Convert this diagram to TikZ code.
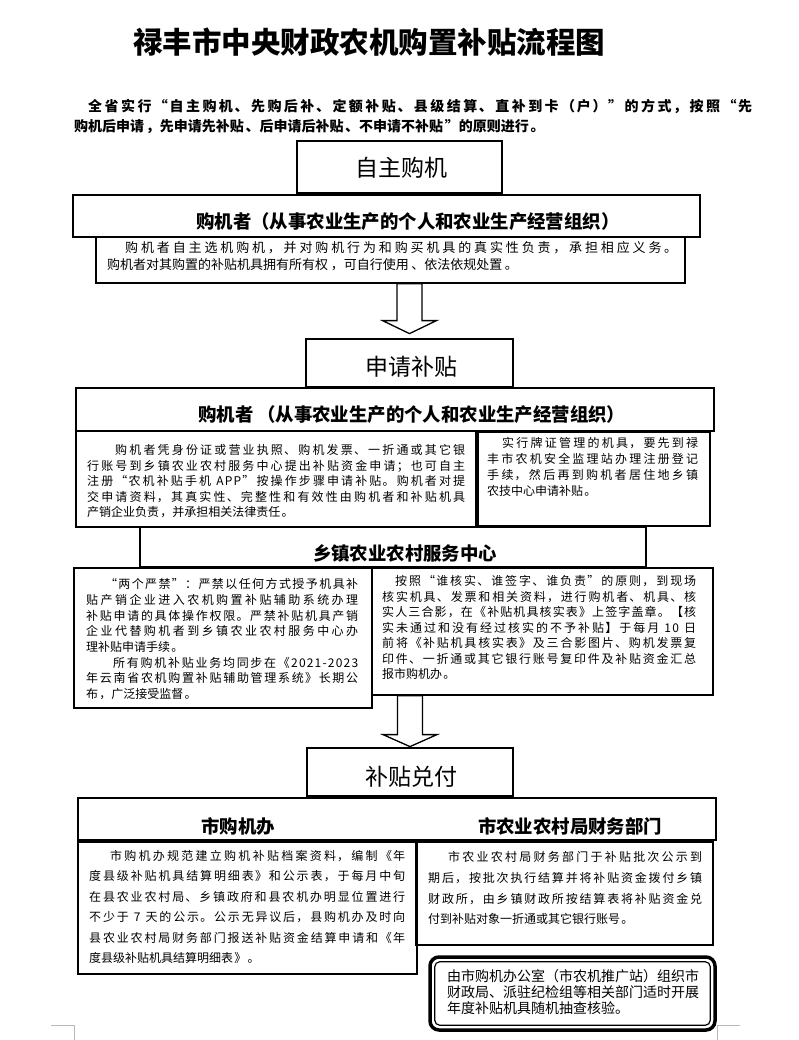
\documentclass[tikz,border=0pt]{standalone}
\usepackage{fontspec}
\usetikzlibrary{calc}
\newfontfamily\zh{Noto Sans CJK SC}
\newfontfamily\zhbody[LetterSpace=10]{Noto Sans CJK SC}
\newfontfamily\zhwide[LetterSpace=20]{Noto Sans CJK SC}
\newfontfamily\zhlead[LetterSpace=12]{Noto Sans CJK SC}
\XeTeXlinebreaklocale "zh"
\XeTeXlinebreakskip=0pt plus 3pt minus 1pt
\tolerance=9999

\tikzset{
  stagebox/.style={draw, line width=2.8pt, inner sep=0pt},
  headbox/.style={draw, line width=2pt, inner sep=0pt},
  textbox/.style={draw, line width=1.5pt, inner sep=0pt},
  stagetext/.style={inner sep=0pt, font=\zh\fontsize{23}{23}\selectfont},
  headtext/.style={inner sep=0pt, font=\zh\bfseries\fontsize{18.4}{18.4}\selectfont},
  para/.style 2 args={anchor=north west, inner sep=0pt, text width=#1pt, align=justify,
    font=\zhbody\fontsize{12}{#2}\selectfont},
  blockarrow/.style={draw, line width=1.3pt, line join=miter},
}

\begin{document}
\begin{tikzpicture}[x=1pt,y=-1pt]
\useasboundingbox (0,0) rectangle (799,1040);
% title and lead-in
\node[font=\zh\bfseries\fontsize{29.5}{29.5}\selectfont] (title) at (369,42) {禄丰市中央财政农机购置补贴流程图};
\node[para={678}{20}, font=\zhlead\bfseries\fontsize{14}{20}\selectfont] (lead) at (74,99.5) {\hspace*{14pt}全省实行“自主购机、先购后补、定额补贴、县级结算、直补到卡（户）”的方式，按照“先\linebreak
购机后申请，先申请先补贴、后申请后补贴、不申请不补贴”的原则进行。};

% stage 1
\node[stagebox, minimum width=205pt, minimum height=52pt] (stageA) at (399.5,167) {};
\node[stagetext] (stageAlbl) at (401,168) {自主购机};
\node[headbox, minimum width=627pt, minimum height=42pt] (buyerA) at (386.5,216) {};
\node[headtext, anchor=west] (buyerAlbl) at (196,222) {购机者（从事农业生产的个人和农业生产经营组织）};
\node[textbox, minimum width=589pt, minimum height=46pt] (buyerAtxt) at (390.5,260) {};
\node[para={570}{17.5}, font=\zhwide\fontsize{13}{17.5}\selectfont] (buyerApar) at (107,241) {\hspace*{18pt}购机者自主选机购机，并对购机行为和购买机具的真实性负责，承担相应义务。\linebreak
购机者对其购置的补贴机具拥有所有权，可自行使用、依法依规处置。};

% stage 2
\node[stagebox, minimum width=207pt, minimum height=48pt] (stageB) at (409.5,363) {};
\node[stagetext] (stageBlbl) at (411,367) {申请补贴};
\node[headbox, minimum width=638pt, minimum height=43pt] (buyerB) at (395,409.5) {};
\node[headtext, anchor=west] (buyerBlbl) at (198,415) {购机者\hspace{4pt}（从事农业生产的个人和农业生产经营组织）};
\node[textbox, minimum width=402pt, minimum height=96pt] (applyL) at (277,479) {};
\node[textbox, minimum width=234pt, minimum height=94pt] (applyR) at (593,479) {};
\node[para={378}{15.5}] (applyLpar) at (87,444.4) {\hspace*{28pt}购机者凭身份证或营业执照、购机发票、一折通或其它银\linebreak
行账号到乡镇农业农村服务中心提出补贴资金申请；也可自主\linebreak
注册“农机补贴手机 APP”按操作步骤申请补贴。购机者对提\linebreak
交申请资料，其真实性、完整性和有效性由购机者和补贴机具\linebreak
产销企业负责，并承担相关法律责任。};
\node[para={211}{16}] (applyRpar) at (487,437.4) {\hspace*{15pt}实行牌证管理的机具，要先到禄\linebreak
丰市农机安全监理站办理注册登记\linebreak
手续，然后再到购机者居住地乡镇\linebreak
农技中心申请补贴。};
\node[headbox, minimum width=506pt, minimum height=40pt] (town) at (393,547) {};
\node[headtext] (townlbl) at (405,553) {乡镇农业农村服务中心};
\node[textbox, minimum width=298pt, minimum height=140pt] (townL) at (223,638) {};
\node[textbox, minimum width=341pt, minimum height=127pt] (townR) at (542.5,631.5) {};
\node[para={272}{15.7}] (townLpar) at (86,578.4) {\hspace*{19pt}“两个严禁”：严禁以任何方式授予机具补\linebreak
贴产销企业进入农机购置补贴辅助系统办理\linebreak
补贴申请的具体操作权限。严禁补贴机具产销\linebreak
企业代替购机者到乡镇农业农村服务中心办\linebreak
理补贴申请手续。\par
\hspace*{27pt}所有购机补贴业务均同步在《2021-2023\linebreak
年云南省农机购置补贴辅助管理系统》长期公\linebreak
布，广泛接受监督。};
\node[para={314}{15.5}] (townRpar) at (382,575.4) {\hspace*{13pt}按照“谁核实、谁签字、谁负责”的原则，到现场\linebreak
核实机具、发票和相关资料，进行购机者、机具、核\linebreak
实人三合影，在《补贴机具核实表》上签字盖章。【核\linebreak
实未通过和没有经过核实的不予补贴】于每月 10 日\linebreak
前将《补贴机具核实表》及三合影图片、购机发票复\linebreak
印件、一折通或其它银行账号复印件及补贴资金汇总\linebreak
报市购机办。};

% stage 3
\node[stagebox, minimum width=206pt, minimum height=48pt] (stageC) at (410,772) {};
\node[stagetext] (stageClbl) at (411,777) {补贴兑付};
\node[headbox, minimum width=638pt, minimum height=42pt] (payHead) at (397,819) {};
\node[headtext] (payHeadL) at (238,826) {市购机办};
\node[headtext] (payHeadR) at (570,826) {市农业农村局财务部门};
\node[textbox, minimum width=339pt, minimum height=132pt] (payL) at (247.5,908) {};
\node[textbox, minimum width=297pt, minimum height=103pt] (payR) at (564.5,893.5) {};
\node[para={316}{20.5}] (payLpar) at (89,850) {\hspace*{21pt}市购机办规范建立购机补贴档案资料，编制《年\linebreak
度县级补贴机具结算明细表》和公示表，于每月中旬\linebreak
在县农业农村局、乡镇政府和县农机办明显位置进行\linebreak
不少于 7 天的公示。公示无异议后，县购机办及时向\linebreak
县农业农村局财务部门报送补贴资金结算申请和《年\linebreak
度县级补贴机具结算明细表》。};
\node[para={274}{20.7}] (payRpar) at (428,851.4) {\hspace*{20pt}市农业农村局财务部门于补贴批次公示到\linebreak
期后，按批次执行结算并将补贴资金拨付乡镇\linebreak
财政所，由乡镇财政所按结算表将补贴资金兑\linebreak
付到补贴对象一折通或其它银行账号。};

% spot check
\node[draw, line width=3.5pt, rounded corners=9pt, minimum width=285pt, minimum height=73pt, inner sep=0pt] (check) at (572.5,993.5) {};
\draw[line width=1.2pt, rounded corners=5pt] ([shift={(6.5,6.5)}]check.north west) rectangle ([shift={(-6.5,-6.5)}]check.south east);
\node[anchor=north west, inner sep=0pt, align=left, font=\zh\fontsize{14}{16}\selectfont] (checkpar) at (447,969.4) {由市购机办公室（市农机推广站）组织市\\财政局、派驻纪检组等相关部门适时开展\\年度补贴机具随机抽查核验。};

% hollow arrows
\coordinate (arrAtop) at (buyerAtxt.south -| stageB.north);
\coordinate (arrAtip) at ($(stageB.north)+(0,-4)$);
\draw[blockarrow] ($(arrAtop)+(-12.5,0)$) -- ($(arrAtip)+(-12.5,-13)$) -- ($(arrAtip)+(-27,-13)$) -- (arrAtip)
  -- ($(arrAtip)+(27,-13)$) -- ($(arrAtip)+(12.5,-13)$) -- ($(arrAtop)+(12.5,0)$) -- cycle;
\coordinate (arrBtop) at (townR.south -| stageC.north);
\coordinate (arrBtip) at (stageC.north);
\draw[blockarrow] ($(arrBtop)+(-12.5,0)$) -- ($(arrBtip)+(-12.5,-12)$) -- ($(arrBtip)+(-27,-12)$) -- (arrBtip)
  -- ($(arrBtip)+(27,-12)$) -- ($(arrBtip)+(12.5,-12)$) -- ($(arrBtop)+(12.5,0)$) -- cycle;

% page corner marks
\draw[gray!55, line width=0.8pt] (51,1025) -- (74,1025) -- (74,1040);
\draw[gray!55, line width=0.8pt] (740,1025) -- (717,1025) -- (717,1040);
\end{tikzpicture}
\end{document}
